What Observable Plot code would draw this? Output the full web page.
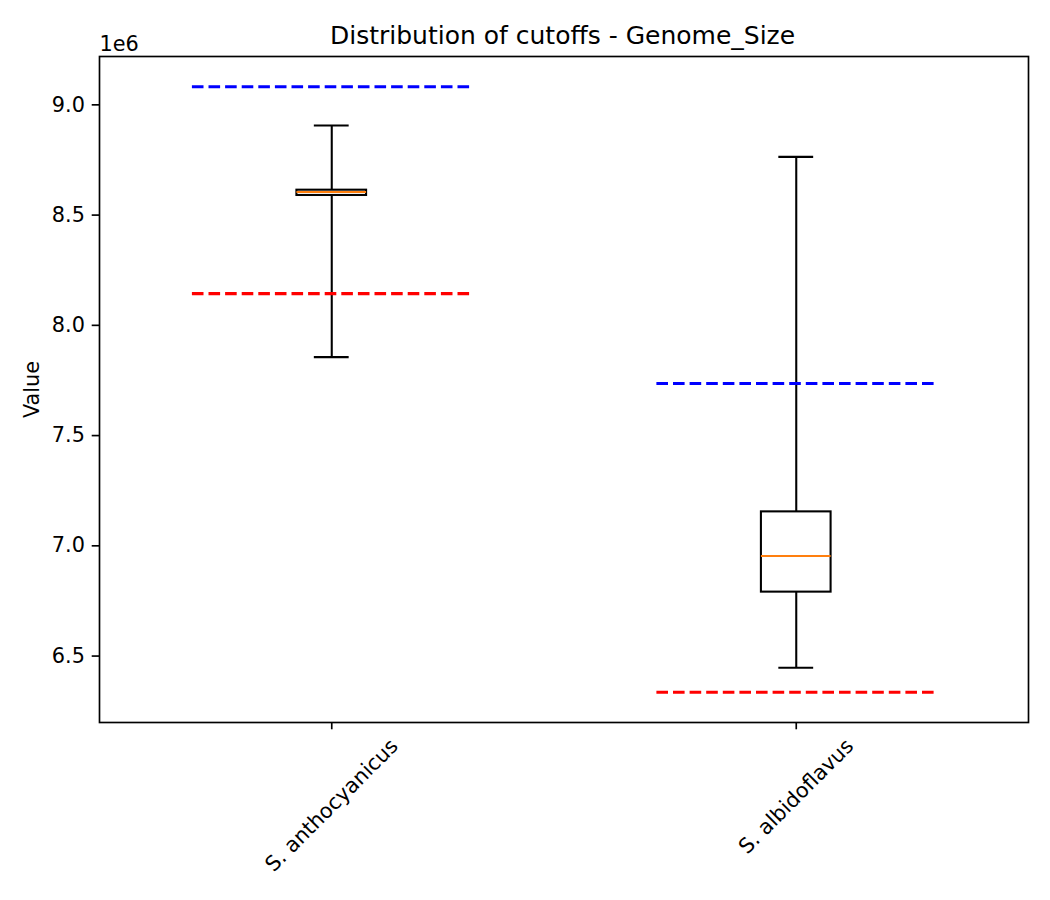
<!DOCTYPE html>
<html>
<head>
<meta charset="utf-8">
<script src="https://cdn.jsdelivr.net/npm/d3@7"></script>
<script src="https://cdn.jsdelivr.net/npm/@observablehq/plot@0.6"></script>
<style>
  html, body { margin: 0; padding: 0; background: white; }
</style>
</head>
<body>
<div id="chart"></div>
<script>
// Genome size distribution per species, with per-species cutoffs
const categories = ["S. anthocyanicus", "S. albidoflavus"];
const whiskerLow = [7.856e6, 6.447e6];
const q1 = [8.589e6, 6.790e6];
const median = [8.605e6, 6.954e6];
const q3 = [8.613e6, 7.154e6];
const whiskerHigh = [8.906e6, 8.764e6];
const upperCutoff = [9.082e6, 7.736e6];
const lowerCutoff = [8.144e6, 6.336e6];
const yTicks = [6.5e6, 7.0e6, 7.5e6, 8.0e6, 8.5e6, 9.0e6];

const titleText = "Distribution of cutoffs - Genome_Size";
const yLabel = "Value";
const offsetText = "1e6";

// table built from the arrays above
const rows = categories.map((name, i) => ({
  name,
  pos: i + 1,
  lo: whiskerLow[i],
  q1: q1[i],
  med: median[i],
  q3: q3[i],
  hi: whiskerHigh[i],
  upper: upperCutoff[i],
  lower: lowerCutoff[i]
}));

// y extent with 5% padding around all drawn values
const allVals = [...whiskerLow, ...whiskerHigh, ...upperCutoff, ...lowerCutoff];
const vmin = d3.min(allVals), vmax = d3.max(allVals);
const pad = (vmax - vmin) * 0.05;

const FONT = "DejaVu Sans";
const tickFont = 20.8;
const lw = 2.08;       // 1pt
const dashLw = 3.1;    // 1.5pt
const spineLw = 1.67;  // 0.8pt
const tickLen = 7.3;
const boxHalf = 0.075, capHalf = 0.0375, cutHalf = 0.3;

// rotated category labels: the rotated bounding box hangs below the tick marks
const ctx = document.createElement("canvas").getContext("2d");
ctx.font = `${tickFont}px "${FONT}"`;
const labelTop = tickLen * 2 - 3;
function labelOffset(s) {
  const L = ctx.measureText(s).width;
  const h = tickFont * 1.17;
  return labelTop + (L + h) / (2 * Math.SQRT2);
}

const chart = Plot.plot({
  width: 1050,
  height: 900,
  marginTop: 56,
  marginRight: 22,
  marginBottom: 178,
  marginLeft: 99,
  style: { fontFamily: FONT, color: "black", background: "white" },
  x: { domain: [0.5, 2.5] },
  y: { domain: [vmin - pad, vmax + pad] },
  marks: [
    // boxes
    Plot.rect(rows, {
      x1: d => d.pos - boxHalf, x2: d => d.pos + boxHalf,
      y1: "q1", y2: "q3",
      fill: "none", stroke: "black", strokeWidth: lw
    }),
    // whiskers
    Plot.ruleX(rows, { x: "pos", y1: "q1", y2: "lo", stroke: "black", strokeWidth: lw }),
    Plot.ruleX(rows, { x: "pos", y1: "q3", y2: "hi", stroke: "black", strokeWidth: lw }),
    // caps
    Plot.ruleY(rows, { y: "lo", x1: d => d.pos - capHalf, x2: d => d.pos + capHalf, stroke: "black", strokeWidth: lw }),
    Plot.ruleY(rows, { y: "hi", x1: d => d.pos - capHalf, x2: d => d.pos + capHalf, stroke: "black", strokeWidth: lw }),
    // medians
    Plot.ruleY(rows, { y: "med", x1: d => d.pos - boxHalf, x2: d => d.pos + boxHalf, stroke: "#ff7f0e", strokeWidth: lw }),
    // cutoffs
    Plot.ruleY(rows, { y: "upper", x1: d => d.pos - cutHalf, x2: d => d.pos + cutHalf, stroke: "blue", strokeWidth: dashLw, strokeDasharray: "11.6,5" }),
    Plot.ruleY(rows, { y: "lower", x1: d => d.pos - cutHalf, x2: d => d.pos + cutHalf, stroke: "red", strokeWidth: dashLw, strokeDasharray: "11.6,5" }),
    // axes
    Plot.axisY(yTicks, {
      tickSize: tickLen, tickPadding: tickLen, strokeWidth: spineLw,
      tickFormat: d => (d / 1e6).toFixed(1),
      fontSize: tickFont, fill: "black", label: null
    }),
    Plot.axisX(rows.map(d => d.pos), {
      tickSize: tickLen, strokeWidth: spineLw,
      tickFormat: () => "", label: null
    }),
    ...rows.map(r => Plot.text([r.name], {
      x: [r.pos], text: d => d, frameAnchor: "bottom",
      dy: labelOffset(r.name), rotate: -45,
      textAnchor: "middle", lineAnchor: "middle",
      fontSize: tickFont, fill: "black"
    })),
    Plot.frame({ stroke: "black", strokeWidth: spineLw }),
    // title, offset text, y label
    Plot.text([titleText], {
      text: d => d, frameAnchor: "top", dy: -12.5, dx: -1.5,
      lineAnchor: "bottom", fontSize: 25, fill: "black"
    }),
    Plot.text([offsetText], {
      text: d => d, frameAnchor: "top-left", dy: -6,
      textAnchor: "start", lineAnchor: "bottom", fontSize: tickFont, fill: "black"
    }),
    Plot.text([yLabel], {
      text: d => d, frameAnchor: "left", dx: -61, rotate: -90,
      textAnchor: "middle", lineAnchor: "bottom", fontSize: tickFont, fill: "black"
    })
  ]
});

document.getElementById("chart").appendChild(chart);
</script>
</body>
</html>
